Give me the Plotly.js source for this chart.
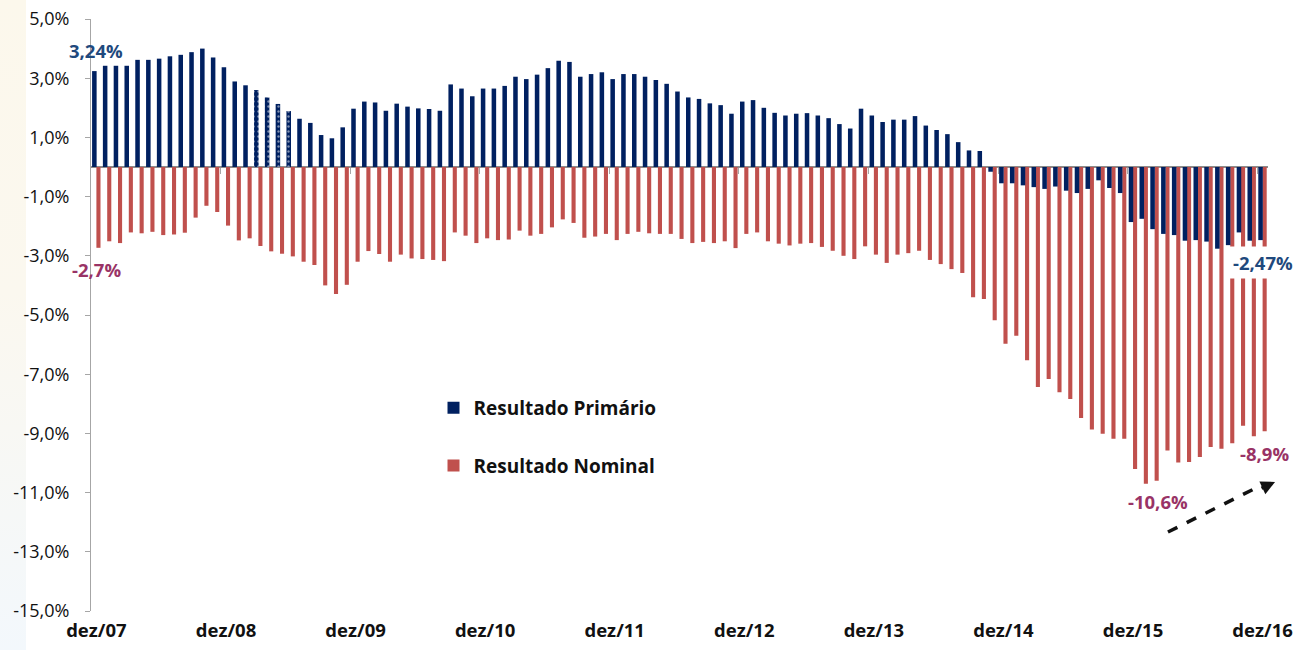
<!DOCTYPE html>
<html>
<head>
<meta charset="utf-8">
<script src="https://cdn.plot.ly/plotly-3.0.1.min.js"></script>
<style>
  html, body { margin:0; padding:0; background:#ffffff; }
  #stripe { position:absolute; left:0; top:0; width:26px; height:650px;
            background:linear-gradient(to bottom, #fcf8ec 0%, #fbf8ef 45%, #f3f8fc 100%); }
  #chart { position:absolute; left:0; top:0; width:1296px; height:650px; }
</style>
</head>
<body>
<div id="stripe"></div>
<div id="chart"></div>
<script>
// ---- data (percent of GDP, 12-month accumulated), dez/07 .. dez/16 ----
const primario = [
  3.24, 3.42, 3.42, 3.42, 3.62, 3.62, 3.66, 3.74, 3.79, 3.88, 4.00, 3.70,
  3.37, 2.89, 2.76, 2.60, 2.35, 2.13, 1.89, 1.63, 1.49, 1.08, 0.97, 1.34,
  1.97, 2.21, 2.18, 1.90, 2.14, 2.04, 1.98, 1.96, 1.90, 2.79, 2.65, 2.39,
  2.65, 2.65, 2.74, 3.05, 2.97, 3.12, 3.34, 3.59, 3.55, 3.05, 3.14, 3.20,
  2.97, 3.14, 3.14, 3.05, 2.94, 2.81, 2.55, 2.35, 2.30, 2.15, 2.09, 1.80,
  2.21, 2.26, 2.00, 1.83, 1.74, 1.80, 1.82, 1.74, 1.65, 1.45, 1.30, 1.97,
  1.74, 1.52, 1.60, 1.60, 1.72, 1.40, 1.25, 1.11, 0.84, 0.56, 0.54, -0.16,
  -0.55, -0.55, -0.62, -0.68, -0.74, -0.66, -0.80, -0.88, -0.74, -0.45, -0.71, -0.88,
  -1.86, -1.75, -2.10, -2.26, -2.30, -2.49, -2.47, -2.52, -2.76, -2.64, -2.21, -2.49,
  -2.47
];
const nominal = [
  -2.73, -2.51, -2.57, -2.21, -2.24, -2.19, -2.30, -2.28, -2.22, -1.71, -1.31, -1.52,
  -1.98, -2.48, -2.41, -2.67, -2.85, -2.93, -3.02, -3.20, -3.31, -4.00, -4.29, -3.98,
  -3.20, -2.84, -2.94, -3.20, -2.96, -3.09, -3.11, -3.14, -3.18, -2.21, -2.32, -2.57,
  -2.41, -2.47, -2.45, -2.15, -2.32, -2.26, -2.04, -1.77, -1.89, -2.39, -2.35, -2.26,
  -2.47, -2.26, -2.19, -2.24, -2.26, -2.26, -2.43, -2.57, -2.53, -2.57, -2.51, -2.74,
  -2.26, -2.21, -2.51, -2.59, -2.65, -2.59, -2.57, -2.70, -2.83, -3.00, -3.11, -2.68,
  -2.96, -3.24, -2.96, -2.91, -2.83, -3.14, -3.28, -3.45, -3.58, -4.40, -4.46, -5.18,
  -5.97, -5.70, -6.53, -7.43, -7.16, -7.61, -7.84, -8.48, -8.87, -9.01, -9.18, -9.18,
  -10.20, -10.70, -10.60, -9.58, -9.98, -9.97, -9.80, -9.46, -9.52, -9.33, -8.74, -9.10,
  -8.93
];
// months whose primary bar is drawn with a dotted pattern (mar/09 .. jun/09)
const dottedMonths = ['mar/09', 'abr/09', 'mai/09', 'jun/09'];

const monthNames = ['jan','fev','mar','abr','mai','jun','jul','ago','set','out','nov','dez'];
const xTickLabels = ['dez/07','dez/08','dez/09','dez/10','dez/11','dez/12','dez/13','dez/14','dez/15','dez/16'];
const yTickVals = [5, 3, 1, -1, -3, -5, -7, -9, -11, -13, -15];
const yTickText = ['5,0%','3,0%','1,0%','-1,0%','-3,0%','-5,0%','-7,0%','-9,0%','-11,0%','-13,0%','-15,0%'];
const seriesNames = ['Resultado Primário', 'Resultado Nominal'];
const labels = { first: ['3,24%', '-2,7%'], last: ['-2,47%', '-8,9%'], trough: '-10,6%' };

// category labels: one per month starting at dez/07
const months = [];
for (let i = 0; i < primario.length; i++) {
  const m = (11 + i) % 12;
  const y = 7 + Math.floor((11 + i) / 12);
  months.push(monthNames[m] + '/' + String(y).padStart(2, '0'));
}
const patternShapes = months.map(m => dottedMonths.includes(m) ? '.' : '');

const NAVY = '#002060';
const RED = '#c0504d';
const LABEL_NAVY = '#1f497d';
const LABEL_PLUM = '#993366';
const FONT = '"Open Sans", Lato, sans-serif';

const traces = [
  {
    type: 'bar', name: seriesNames[1], x: months, y: nominal,
    width: 0.38, offset: 0.0,
    marker: { color: RED },
    legendgroup: 'b', legendrank: 2, hoverinfo: 'x+y'
  },
  {
    type: 'bar', name: seriesNames[0], x: months, y: primario,
    width: 0.42, offset: -0.40,
    marker: { color: NAVY,
      pattern: { shape: patternShapes, fgcolor: '#ffffff', size: 5, solidity: 0.18, fillmode: 'overlay' } },
    legendgroup: 'a', legendrank: 1, hoverinfo: 'x+y'
  }
];

const nLast = months.length - 1;
const iMin = nominal.indexOf(Math.min(...nominal));

// tick marks on the zero line at the boundary before every "dez"
const boundaryTicks = xTickLabels.slice(1).map(l => months.indexOf(l) - 0.5);

const layout = {
  width: 1296, height: 650,
  margin: { l: 91, r: 28, t: 19, b: 39 },
  paper_bgcolor: 'rgba(0,0,0,0)',
  plot_bgcolor: 'rgba(0,0,0,0)',
  barmode: 'overlay',
  font: { family: FONT, size: 18, color: '#111111' },
  showlegend: true,
  legend: {
    x: 0.291, y: 0.375, xanchor: 'left', yanchor: 'top',
    bgcolor: 'rgba(0,0,0,0)', tracegroupgap: 30,
    font: { family: FONT, size: 19, color: '#111111', weight: 'bold' }
  },
  xaxis: {
    type: 'category', range: [-0.5, months.length - 0.5],
    tickmode: 'array', tickvals: xTickLabels, ticktext: xTickLabels,
    ticks: '', showline: false, showgrid: false, zeroline: false,
    tickfont: { family: FONT, size: 18.5, color: '#111111', weight: 'bold' },
    ticklabelstandoff: 6, fixedrange: true
  },
  xaxis2: {
    overlaying: 'x', anchor: 'free', position: 0.75, side: 'bottom',
    type: 'linear', range: [-0.5, months.length - 0.5],
    tickmode: 'array', tickvals: boundaryTicks, ticks: 'outside', ticklen: 6,
    tickcolor: '#a6a6a6', tickwidth: 1, showticklabels: false,
    showline: false, showgrid: false, zeroline: false, fixedrange: true
  },
  yaxis: {
    range: [-15, 5], tickmode: 'array', tickvals: yTickVals, ticktext: yTickText,
    showline: true, linecolor: '#a6a6a6', linewidth: 1,
    ticks: 'outside', ticklen: 5, tickcolor: '#a6a6a6',
    showgrid: false, zeroline: true, zerolinecolor: '#8c8c8c', zerolinewidth: 1.5,
    tickfont: { family: FONT, size: 18, color: '#111111' },
    ticklabelstandoff: 12, fixedrange: true
  },
  annotations: [
    { x: months[0], y: primario[0], text: labels.first[0], showarrow: false,
      yshift: 21, xshift: 0, font: { family: FONT, size: 18.5, color: LABEL_NAVY, weight: 'bold' } },
    { x: months[0], y: nominal[0], text: labels.first[1], showarrow: false,
      yshift: -22, xshift: 0, font: { family: FONT, size: 18.5, color: LABEL_PLUM, weight: 'bold' } },
    { x: months[nLast], y: primario[nLast], text: labels.last[0], showarrow: false,
      yshift: -22, xshift: 0, bgcolor: '#ffffff', borderpad: 3,
      font: { family: FONT, size: 18.5, color: LABEL_NAVY, weight: 'bold' } },
    { x: months[nLast], y: nominal[nLast], text: labels.last[1], showarrow: false,
      yshift: -22, xshift: 2, font: { family: FONT, size: 18.5, color: LABEL_PLUM, weight: 'bold' } },
    { x: months[iMin], y: nominal[iMin], text: labels.trough, showarrow: false,
      yshift: -18, xshift: 14, font: { family: FONT, size: 18.5, color: LABEL_PLUM, weight: 'bold' } },
    // arrow head of the dashed trend arrow
    { xref: 'paper', yref: 'paper', x: 1.006, y: 0.218, ax: -15, ay: 7, text: '',
      showarrow: true, arrowhead: 2, arrowsize: 0.8, arrowwidth: 3.5, arrowcolor: '#111111' }
  ],
  shapes: [
    { type: 'line', xref: 'paper', yref: 'paper', x0: 0.915, y0: 0.1334, x1: 0.994, y1: 0.212,
      line: { color: '#111111', width: 3.5, dash: 'dash' } }
  ]
};

// a hidden trace so that the zero-line tick axis is drawn
traces.push({ type: 'scatter', x: [0], y: [0], xaxis: 'x2', yaxis: 'y',
  mode: 'markers', marker: { opacity: 0 }, showlegend: false, hoverinfo: 'skip' });

Plotly.newPlot('chart', traces, layout, { displayModeBar: false, staticPlot: true });
</script>
</body>
</html>
